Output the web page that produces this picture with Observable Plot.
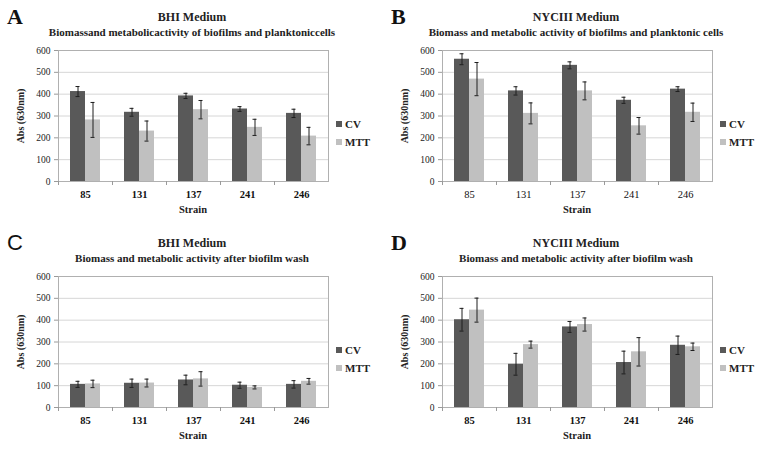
<!DOCTYPE html>
<html>
<head>
<meta charset="utf-8">
<script src="https://cdn.jsdelivr.net/npm/d3@7"></script>
<script src="https://cdn.jsdelivr.net/npm/@observablehq/plot@0.6"></script>
<style>
  html, body { margin: 0; padding: 0; background: #fff; }
  #root { position: relative; width: 768px; height: 450px; background: #fff; overflow: hidden; }
  .panel { position: absolute; width: 384px; height: 225px; }
  .serif { font-family: "Liberation Serif", "DejaVu Serif", serif; }
  .letter { position: absolute; left: 7px; top: 6px; font-size: 22px; font-weight: bold; line-height: 1; color: #111; }
  .title { position: absolute; left: 0; width: 384px; text-align: center; font-weight: bold; color: #222; white-space: nowrap; }
  .ylab { position: absolute; left: 20px; top: 116px; transform: translate(-50%, -50%) rotate(-90deg); font-size: 10px; font-weight: bold; color: #222; white-space: nowrap; }
  .xlab { position: absolute; left: 58px; width: 270px; top: 204px; text-align: center; font-size: 10.5px; font-weight: bold; color: #222; }
  .leg { position: absolute; left: 336px; font-size: 11px; font-weight: bold; color: #222; line-height: 12px; white-space: nowrap; }
  .leg span.sw { display: inline-block; width: 6px; height: 6px; margin-right: 3px; vertical-align: 1px; }
  .panel svg { position: absolute; left: 0; top: 0; }
</style>
</head>
<body>
<div id="root"></div>
<script>
const strains = ["85", "131", "137", "241", "246"];
const seriesNames = ["CV", "MTT"];
const seriesColors = ["#595959", "#c0c0c0"];
const yTicks = [0, 100, 200, 300, 400, 500, 600];

// Panel A: BHI, biofilms and planktonic cells
const cvA = [412, 317, 392, 332, 312];
const cvAErr = [23, 18, 12, 11, 19];
const mttA = [282, 231, 329, 248, 208];
const mttAErr = [80, 46, 42, 37, 40];

// Panel B: NYCIII, biofilms and planktonic cells
const cvB = [560, 415, 532, 372, 423];
const cvBErr = [25, 19, 16, 14, 11];
const mttB = [469, 312, 415, 255, 317];
const mttBErr = [76, 48, 41, 38, 42];

// Panel C: BHI, after biofilm wash
const cvC = [106, 111, 126, 102, 106];
const cvCErr = [14, 19, 22, 14, 17];
const mttC = [108, 112, 131, 92, 120];
const mttCErr = [17, 18, 33, 7, 13];

// Panel D: NYCIII, after biofilm wash
const cvD = [402, 198, 369, 206, 285];
const cvDErr = [52, 50, 25, 52, 42];
const mttD = [446, 288, 380, 255, 278];
const mttDErr = [55, 16, 30, 65, 17];

const letters = ["A", "B", "C", "D"];
const mediums = ["BHI Medium", "NYCIII Medium", "BHI Medium", "NYCIII Medium"];
const subtitles = [
  "Biomassand metabolicactivity of biofilms and planktoniccells",
  "Biomass and metabolic activity of biofilms and planktonic cells",
  "Biomass and metabolic activity after biofilm wash",
  "Biomass and metabolic activity after biofilm wash"
];

const panelValues = [
  [cvA, cvAErr, mttA, mttAErr],
  [cvB, cvBErr, mttB, mttBErr],
  [cvC, cvCErr, mttC, mttCErr],
  [cvD, cvDErr, mttD, mttDErr]
];
const boldTicks = [true, false, true, true];
const panelPos = [[0, 0], [384, 0], [0, 226], [384, 226]];

const serif = '"Liberation Serif", "DejaVu Serif", serif';
const root = document.getElementById("root");

function rowsOf(vals, errs) {
  return strains.map((s, i) => ({strain: s, value: vals[i], lo: vals[i] - errs[i], hi: vals[i] + errs[i]}));
}

// bar layout inside each 54px strain band (style insets)
const barStyle = [
  {insetLeft: 12, insetRight: 27, dx: -7.5},
  {insetLeft: 27, insetRight: 12, dx: 7.5}
];

panelValues.forEach(([cv, cvErr, mtt, mttErr], p) => {
  const groups = [rowsOf(cv, cvErr), rowsOf(mtt, mttErr)];
  const panel = document.createElement("div");
  panel.className = "panel serif";
  panel.style.left = panelPos[p][0] + "px";
  panel.style.top = panelPos[p][1] + "px";
  root.appendChild(panel);

  const seriesMarks = groups.flatMap((rows, i) => {
    const st = barStyle[i];
    return [
      Plot.barY(rows, {x: "strain", y: "value", fill: seriesColors[i], insetLeft: st.insetLeft, insetRight: st.insetRight}),
      Plot.ruleX(rows, {x: "strain", y1: "lo", y2: "hi", dx: st.dx, stroke: "#1e1e1e", strokeWidth: 1}),
      Plot.tickY(rows, {x: "strain", y: "lo", insetLeft: st.insetLeft + 5.5, insetRight: st.insetRight + 5.5, stroke: "#1e1e1e"}),
      Plot.tickY(rows, {x: "strain", y: "hi", insetLeft: st.insetLeft + 5.5, insetRight: st.insetRight + 5.5, stroke: "#1e1e1e"})
    ];
  });

  const chart = Plot.plot({
    width: 384,
    height: 225,
    marginTop: 50,
    marginBottom: 44,
    marginLeft: 58,
    marginRight: 56,
    style: {fontFamily: serif, fontSize: "9.5px", color: "#222", background: "transparent", overflow: "visible"},
    x: {domain: strains, padding: 0, label: null},
    y: {domain: [0, 600], label: null},
    marks: [
      Plot.gridY(yTicks, {stroke: "#d6d6d6", strokeOpacity: 1}),
      Plot.frame({stroke: "#b0b0b0"}),
      ...seriesMarks,
      Plot.axisY(yTicks, {tickSize: 4, tickPadding: 4, stroke: "#9a9a9a", fill: "#222", label: null, fontSize: 9.5}),
      Plot.axisX({tickSize: 0, tickPadding: 9, fontSize: 10.5, fontWeight: boldTicks[p] ? "bold" : "normal", fill: "#111", label: null}),
      Plot.axisX({tickSize: 4, tickFormat: () => "", dx: -27, stroke: "#9a9a9a", label: null})
    ]
  });
  panel.appendChild(chart);

  const letter = document.createElement("div");
  letter.className = "letter";
  letter.textContent = letters[p];
  if (letters[p] === "C") {
    letter.style.fontFamily = '"Liberation Sans", "DejaVu Sans", sans-serif';
    letter.style.fontWeight = "normal";
  } else {
    letter.style.fontFamily = serif;
  }
  panel.appendChild(letter);

  const t1 = document.createElement("div");
  t1.className = "title";
  t1.style.top = "10px";
  t1.style.fontSize = "12px";
  t1.style.lineHeight = "14px";
  t1.textContent = mediums[p];
  panel.appendChild(t1);

  const t2 = document.createElement("div");
  t2.className = "title";
  t2.style.top = "25px";
  t2.style.fontSize = "11px";
  t2.style.lineHeight = "14px";
  t2.textContent = subtitles[p];
  panel.appendChild(t2);

  const yl = document.createElement("div");
  yl.className = "ylab";
  yl.textContent = "Abs (630nm)";
  panel.appendChild(yl);

  const xl = document.createElement("div");
  xl.className = "xlab";
  xl.textContent = "Strain";
  panel.appendChild(xl);

  seriesNames.forEach((name, i) => {
    const lg = document.createElement("div");
    lg.className = "leg";
    lg.style.top = (118 + i * 18) + "px";
    const sw = document.createElement("span");
    sw.className = "sw";
    sw.style.background = seriesColors[i];
    lg.appendChild(sw);
    lg.appendChild(document.createTextNode(name));
    panel.appendChild(lg);
  });
});
</script>
</body>
</html>
